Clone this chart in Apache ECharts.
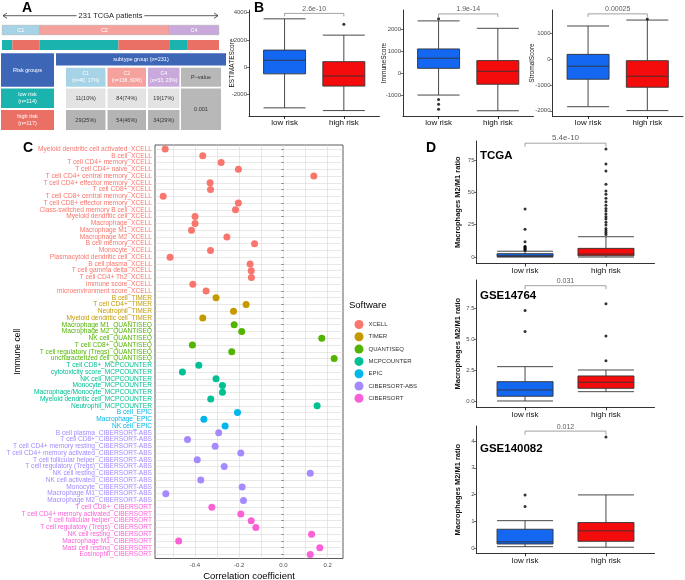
<!DOCTYPE html>
<html><head><meta charset="utf-8">
<script src="https://cdn.jsdelivr.net/npm/echarts@6/dist/echarts.min.js"></script>
<style>html,body{margin:0;padding:0;background:#fff}#c{width:685px;height:580px}</style>
</head><body><div id="c"></div>
<script>
// ================= DATA =================
// Panel A
const subtypes = ['C1', 'C2', 'C4'];
const subtypeLowRisk = [11, 84, 19];
const subtypeHighRisk = [29, 54, 34];
const pValueA = '0.001';

// Panel B
const riskGroups = ['low risk', 'high risk'];
const estimateBox = [[-3000, -500, 500, 1250, 3550], [-3200, -1400, -650, 400, 2350]];
const estimateOutliers = [[], [3150]];
const immuneBox = [[-1000, 225, 690, 1115, 2400], [-1720, -505, 90, 580, 2060]];
const immuneOutliers = [[2500, -1200, -1420, -1650], []];
const stromalBox = [[-1840, -775, -270, 190, 1290], [-1990, -1085, -660, -55, 1520]];
const stromalOutliers = [[], [1560]];
const bPValues = ['2.6e-10', '1.9e-14', '0.00025'];
const bBracketLevels = [3950, 2720, 1760];

// Panel C
const softwareNames = ['XCELL', 'TIMER', 'QUANTISEQ', 'MCPCOUNTER', 'EPIC', 'CIBERSORT-ABS', 'CIBERSORT'];
const xcellCells = ['Myeloid dendritic cell activated', 'B cell', 'T cell CD4+ memory', 'T cell CD4+ naive', 'T cell CD4+ central memory', 'T cell CD4+ effector memory', 'T cell CD8+', 'T cell CD8+ central memory', 'T cell CD8+ effector memory', 'Class-switched memory B cell', 'Myeloid dendritic cell', 'Macrophage', 'Macrophage M1', 'Macrophage M2', 'B cell memory', 'Monocyte', 'Plasmacytoid dendritic cell', 'B cell plasma', 'T cell gamma delta', 'T cell CD4+ Th2', 'immune score', 'microenvironment score'];
const xcellCorr = [-0.535, -0.365, -0.282, -0.204, 0.137, -0.332, -0.330, -0.544, -0.204, -0.217, -0.400, -0.400, -0.416, -0.256, -0.131, -0.330, -0.513, -0.151, -0.146, -0.145, -0.410, -0.350];
const timerCells = ['B cell', 'T cell CD4+', 'Neutrophil', 'Myeloid dendritic cell'];
const timerCorr = [-0.305, -0.169, -0.226, -0.365];
const quantiseqCells = ['Macrophage M1', 'Macrophage M2', 'NK cell', 'T cell CD8+', 'T cell regulatory (Tregs)', 'uncharacterized cell'];
const quantiseqCorr = [-0.223, -0.189, 0.173, -0.412, -0.234, 0.229];
const mcpcounterCells = ['T cell CD8+', 'cytotoxicity score', 'NK cell', 'Monocyte', 'Macrophage/Monocyte', 'Myeloid dendritic cell', 'Neutrophil'];
const mcpcounterCorr = [-0.383, -0.457, -0.305, -0.276, -0.276, -0.329, 0.152];
const epicCells = ['B cell', 'Macrophage', 'NK cell'];
const epicCorr = [-0.208, -0.360, -0.264];
const cibersortAbsCells = ['B cell plasma', 'T cell CD8+', 'T cell CD4+ memory resting', 'T cell CD4+ memory activated', 'T cell follicular helper', 'T cell regulatory (Tregs)', 'NK cell resting', 'NK cell activated', 'Monocyte', 'Macrophage M1', 'Macrophage M2'];
const cibersortAbsCorr = [-0.293, -0.434, -0.309, -0.193, -0.390, -0.268, 0.121, -0.374, -0.187, -0.532, -0.181];
const cibersortCells = ['T cell CD8+', 'T cell CD4+ memory activated', 'T cell follicular helper', 'T cell regulatory (Tregs)', 'NK cell resting', 'Macrophage M1', 'Mast cell resting', 'Eosinophil'];
const cibersortCorr = [-0.324, -0.193, -0.146, -0.125, 0.127, -0.474, 0.164, 0.121];
const corrTicks = [-0.4, -0.2, 0.0, 0.2];

// Panel D
const dTitles = ['TCGA', 'GSE14764', 'GSE140082'];
const tcgaBox = [[0, 0.3, 1.0, 2.6, 4.5], [0, 1.0, 2.3, 6.7, 15.7]];
const tcgaOutliers = [[5.2, 6.0, 6.8, 7.5, 8.3, 11.8, 21.4, 37.2], [17.5, 19, 20.5, 22, 24.7, 26.8, 29.4, 31.2, 33.3, 35.6, 37.6, 40, 42.8, 45.4, 48.5, 51, 56.2, 66.5, 71.9, 83.5]];
const gse14764Box = [[0, 0.38, 0.89, 1.56, 2.77], [0.75, 1.02, 1.51, 2.02, 2.5]];
const gse14764Outliers = [[5.6, 7.3], [3.25, 5.25, 7.85]];
const gse140082Box = [[0.06, 0.16, 0.24, 0.71, 1.03], [0.04, 0.26, 0.65, 0.96, 1.99]];
const gse140082Outliers = [[1.56, 1.99], [4.15]];
const dPValues = ['5.4e-10', '0.031', '0.012'];
const dBracketLevels = [88, 9.3, 4.37];

// ================= STYLE =================
const FONT = '"Liberation Sans", Arial, Helvetica, sans-serif';
const BLUE = '#1467f0', RED = '#f40b0b';
const TEAL = '#1bb3ae', SALMON_RED = '#ea6f65';
const subtypeColors = ['#a7d3e6', '#f5a19e', '#c9a9dc'];
const softwareColors = ['#F8766D', '#C49A00', '#53B400', '#00C094', '#00B6EB', '#A58AFF', '#FB61D7'];

const grids = [], xAxes = [], yAxes = [], series = [], graphics = [];
function addGrid(g) { g.outerBoundsMode = 'none'; g.containLabel = false; grids.push(g); return grids.length - 1; }

// ================= PANEL A =================
addGrid({ left: 2, top: 22.5, width: 217, height: 30 });
const totalN = subtypeLowRisk.reduce((a, b) => a + b, 0) + subtypeHighRisk.reduce((a, b) => a + b, 0);
xAxes.push({ gridIndex: 0, type: 'value', min: 0, max: totalN, show: false });
yAxes.push({ gridIndex: 0, type: 'category', data: ['subtype', 'risk'], inverse: true, show: false });
subtypes.forEach((s, i) => {
  series.push({ type: 'bar', name: s, xAxisIndex: 0, yAxisIndex: 0, stack: 'sub', barWidth: 10, barGap: '-100%',
    data: [subtypeLowRisk[i] + subtypeHighRisk[i], '-'],
    itemStyle: { color: subtypeColors[i], borderColor: '#9a9a9a', borderWidth: 0.4 },
    label: { show: true, position: 'inside', formatter: s, fontSize: 5.5, color: '#fff', fontFamily: FONT }, silent: true });
});
subtypes.forEach((s, i) => {
  series.push({ type: 'bar', name: s + ' low', xAxisIndex: 0, yAxisIndex: 0, stack: 'risk', barWidth: 10, barGap: '-100%',
    data: ['-', subtypeLowRisk[i]], itemStyle: { color: TEAL }, silent: true });
  series.push({ type: 'bar', name: s + ' high', xAxisIndex: 0, yAxisIndex: 0, stack: 'risk', barWidth: 10, barGap: '-100%',
    data: ['-', subtypeHighRisk[i]], itemStyle: { color: SALMON_RED }, silent: true });
});

// arrow
graphics.push({ type: 'line', shape: { x1: 3, y1: 15.7, x2: 218, y2: 15.7 }, style: { stroke: '#333', lineWidth: 0.8 } });
graphics.push({ type: 'polyline', shape: { points: [[7, 13], [3, 15.7], [7, 18.4]] }, style: { stroke: '#333', lineWidth: 0.8, fill: null } });
graphics.push({ type: 'polyline', shape: { points: [[214, 13], [218, 15.7], [214, 18.4]] }, style: { stroke: '#333', lineWidth: 0.8, fill: null } });
graphics.push({ type: 'text', x: 110.5, y: 15.7, style: { text: totalN + ' TCGA patients', fontSize: 7.5, fontFamily: FONT, fill: '#222', align: 'center', verticalAlign: 'middle', backgroundColor: '#fff', padding: [0, 2] }, z: 10 });

// table
function cell(x1, y1, x2, y2, fill, text, color, fs) {
  graphics.push({ type: 'rect', shape: { x: x1, y: y1, width: x2 - x1, height: y2 - y1 }, style: { fill: fill } });
  if (text) graphics.push({ type: 'text', x: (x1 + x2) / 2, y: (y1 + y2) / 2, style: { text: text, fontSize: fs || 5.5, fontFamily: FONT, fill: color, align: 'center', verticalAlign: 'middle', lineHeight: 7 }, z: 5 });
}
const TBLUE = '#3d66b6';
const lowTot = subtypeLowRisk.reduce((a, b) => a + b, 0), highTot = subtypeHighRisk.reduce((a, b) => a + b, 0);
const colX = [[66, 105.5], [107.5, 146], [148, 179.5]];
cell(1, 53.3, 54, 86.7, TBLUE, 'Risk groups', '#fff');
cell(56, 53.3, 226, 65.5, TBLUE, 'subtype group (n=' + totalN + ')', '#fff');
subtypes.forEach((s, i) => {
  const n = subtypeLowRisk[i] + subtypeHighRisk[i];
  cell(colX[i][0], 67.7, colX[i][1], 86.7, subtypeColors[i], s + '\n(n=' + n + ', ' + Math.round(n / totalN * 100) + '%)', '#fff', 5);
  cell(colX[i][0], 88.5, colX[i][1], 108, '#e3e3e3', subtypeLowRisk[i] + '(' + Math.round(subtypeLowRisk[i] / lowTot * 100) + '%)', '#333');
  cell(colX[i][0], 110, colX[i][1], 130, '#b4b4b4', subtypeHighRisk[i] + '(' + Math.round(subtypeHighRisk[i] / highTot * 100) + '%)', '#333');
});
cell(181, 67.7, 221, 86.7, '#b8b8b8', 'P\u2212value', '#333');
cell(181, 88.5, 221, 130, '#b8b8b8', pValueA, '#333');
cell(1, 88.5, 54, 108, TEAL, 'low risk\n(n=' + lowTot + ')', '#fff');
cell(1, 110, 54, 130, SALMON_RED, 'high risk\n(n=' + highTot + ')', '#fff');

// ================= BOX PANELS (B, D) =================
function addBoxPanel(cfg) {
  const gi = addGrid({ left: cfg.left, top: cfg.top, width: cfg.width, height: cfg.height });
  xAxes.push({ gridIndex: gi, type: 'value', min: 0.4, max: 2.6,
    axisLine: { show: true, onZero: false, lineStyle: { color: '#000', width: 0.8 } },
    axisTick: { show: true, customValues: [1, 2], length: 3, lineStyle: { color: '#000', width: 0.8 } },
    axisLabel: { customValues: [1, 2], formatter: v => riskGroups[Math.round(v) - 1], fontSize: 8, color: '#111', margin: 3, fontFamily: FONT },
    splitLine: { show: false } });
  yAxes.push({ gridIndex: gi, type: 'value', min: cfg.min, max: cfg.max,
    name: cfg.name, nameLocation: 'middle', nameGap: cfg.nameGap, nameRotate: 90, nameMoveOverlap: false,
    nameTextStyle: { fontSize: cfg.nameSize, color: '#111', fontFamily: FONT, fontWeight: cfg.nameBold ? 'bold' : 'normal' },
    axisLine: { show: true, onZero: false, lineStyle: { color: '#000', width: 0.8 } },
    axisTick: { show: true, customValues: cfg.ticks, length: 2.5, lineStyle: { color: '#333', width: 0.7 } },
    axisLabel: { customValues: cfg.ticks, formatter: cfg.fmt, fontSize: 6, color: '#4d4d4d', margin: 2, fontFamily: FONT },
    splitLine: { show: false } });
  series.push({ type: 'boxplot', xAxisIndex: gi, yAxisIndex: gi, boxWidth: [cfg.bw, cfg.bw], silent: true,
    itemStyle: { borderColor: '#333', borderWidth: 0.9 },
    data: cfg.box.map((b, i) => ({ value: [i + 1].concat(b), itemStyle: { color: i ? RED : BLUE } })) });
  const outs = [];
  cfg.out.forEach((arr, i) => arr.forEach(v => outs.push([i + 1, v])));
  series.push({ type: 'scatter', xAxisIndex: gi, yAxisIndex: gi, symbolSize: 3, silent: true, itemStyle: { color: '#000' }, data: outs });
  const leg = 0.028 * (cfg.max - cfg.min);
  series.push({ type: 'line', xAxisIndex: gi, yAxisIndex: gi, symbol: 'none', silent: true,
    lineStyle: { color: '#8a8a8a', width: 0.8 },
    data: [[1, cfg.bracket - leg], [1, cfg.bracket], [2, cfg.bracket], [2, cfg.bracket - leg]] });
  series.push({ type: 'scatter', xAxisIndex: gi, yAxisIndex: gi, symbolSize: 0, silent: true,
    data: [[1.5, cfg.bracket]],
    label: { show: true, position: 'top', distance: 1, formatter: cfg.p, fontSize: cfg.pSize, color: '#333', fontFamily: FONT } });
}

const bBoxes = [estimateBox, immuneBox, stromalBox];
const bOuts = [estimateOutliers, immuneOutliers, stromalOutliers];
const bNames = ['ESTIMATEScore', 'ImmuneScore', 'StromalScore'];
const bLeft = [249, 403, 552.5];
const bRange = [[-3600, 4200], [-1960, 2900], [-2200, 1910]];
const bTicks = [[-2000, 0, 2000, 4000], [-1000, 0, 1000, 2000], [-2000, -1000, 0, 1000]];
const bNameGap = [13, 15, 17];
for (let k = 0; k < 3; k++) {
  addBoxPanel({ left: bLeft[k], top: 10, width: 130.4, height: 106, min: bRange[k][0], max: bRange[k][1],
    ticks: bTicks[k], fmt: v => String(v), name: bNames[k], nameGap: bNameGap[k], nameSize: 6.5,
    bw: 42, box: bBoxes[k], out: bOuts[k], bracket: bBracketLevels[k], p: bPValues[k], pSize: 7 });
}

// ================= PANEL C =================
const cGroups = [[xcellCells, xcellCorr], [timerCells, timerCorr], [quantiseqCells, quantiseqCorr], [mcpcounterCells, mcpcounterCorr], [epicCells, epicCorr], [cibersortAbsCells, cibersortAbsCorr], [cibersortCells, cibersortCorr]];
const cLabels = [], cSoft = [];
const cGi = addGrid({ left: 155, top: 145, width: 188, height: 413.5, show: true, borderColor: '#333', borderWidth: 0.8, backgroundColor: 'transparent' });
cGroups.forEach((g, si) => {
  const data = [];
  g[0].forEach((name, k) => {
    data.push([g[1][k], cLabels.length]);
    cLabels.push(name + '_' + softwareNames[si]);
    cSoft.push(si);
  });
  series.push({ type: 'scatter', name: softwareNames[si], xAxisIndex: cGi, yAxisIndex: cGi, symbolSize: 7, silent: true,
    itemStyle: { color: softwareColors[si], opacity: 1 }, data: data, z: 5 });
});
const cIdx = cLabels.map((_, i) => i);
const cEven = cIdx.filter(i => i % 2 === 0), cOdd = cIdx.filter(i => i % 2 === 1);
const cLabelStyle = { formatter: v => cLabels[Math.round(v)], fontSize: 6.6, margin: 3, fontFamily: FONT,
  showMinLabel: true, showMaxLabel: true, hideOverlap: false,
  color: v => softwareColors[cSoft[Math.round(Number(v))]] };
xAxes.push({ gridIndex: cGi, type: 'value', min: -0.581, max: 0.269,
  name: 'Correlation coefficient', nameLocation: 'middle', nameGap: 13, nameMoveOverlap: false,
  nameTextStyle: { fontSize: 9.5, color: '#000', fontFamily: FONT },
  axisLine: { show: false },
  axisTick: { show: false, customValues: [-0.5, -0.4, -0.3, -0.2, -0.1, 0, 0.1, 0.2] },
  axisLabel: { customValues: corrTicks, formatter: v => Number(v).toFixed(1), fontSize: 6, color: '#4d4d4d', margin: 4, fontFamily: FONT },
  splitLine: { show: true, lineStyle: { color: '#d9d9d9', width: 0.6 } } });
yAxes.push({ gridIndex: cGi, type: 'value', min: -0.6, max: cLabels.length - 0.4, inverse: true,
  name: 'Immune cell', nameLocation: 'middle', nameGap: 133, nameRotate: 90, nameMoveOverlap: false,
  nameTextStyle: { fontSize: 8.5, color: '#000', fontFamily: FONT },
  axisLine: { show: false },
  axisTick: { show: true, customValues: cIdx, length: 2, lineStyle: { color: '#333', width: 0.6 } },
  axisLabel: Object.assign({ customValues: cEven }, cLabelStyle),
  splitLine: { show: true, lineStyle: { color: '#d9d9d9', width: 0.6 } } });

graphics.push({ type: 'text', x: 349, y: 305, style: { text: 'Software', fontSize: 9.5, fontFamily: FONT, fill: '#000', verticalAlign: 'middle' } });

// ================= PANEL D =================
const dBoxes = [tcgaBox, gse14764Box, gse140082Box];
const dOuts = [tcgaOutliers, gse14764Outliers, gse140082Outliers];
const dTop = [141, 280, 426];
const dHeight = [122.5, 127.3, 127.3];
const dRange = [[-5, 89.7], [-0.51, 9.76], [-0.187, 4.56]];
const dTicks = [[0, 25, 50, 75], [0, 2.5, 5, 7.5], [0, 1, 2, 3, 4]];
const dFmt = [v => String(v), v => Number(v).toFixed(1), v => String(v)];
const dTitleY = [156, 296, 448.5];
for (let k = 0; k < 3; k++) {
  addBoxPanel({ left: 476.5, top: dTop[k], width: 178, height: dHeight[k], min: dRange[k][0], max: dRange[k][1],
    ticks: dTicks[k], fmt: dFmt[k], name: 'Macrophages M2/M1 ratio', nameGap: 15, nameSize: 7.5, nameBold: true,
    bw: 56, box: dBoxes[k], out: dOuts[k], bracket: dBracketLevels[k], p: dPValues[k], pSize: k === 0 ? 8 : 7 });
  graphics.push({ type: 'text', x: 480, y: dTitleY[k], style: { text: dTitles[k], fontSize: 11.5, fontWeight: 'bold', fontFamily: FONT, fill: '#000', verticalAlign: 'middle' } });
}

// second label axis for panel C (odd rows) - avoids label auto-hiding between close rows
yAxes.push({ gridIndex: cGi, type: 'value', min: -0.6, max: cLabels.length - 0.4, inverse: true, position: 'left', offset: 0,
  axisLine: { show: false }, axisTick: { show: false, customValues: cOdd }, splitLine: { show: false },
  axisLabel: Object.assign({ customValues: cOdd }, cLabelStyle) });

// panel letters
[['A', 22, 8], ['B', 254, 8], ['C', 23, 148], ['D', 426, 148]].forEach(l => {
  graphics.push({ type: 'text', x: l[1], y: l[2], style: { text: l[0], fontSize: 14, fontWeight: 'bold', fontFamily: FONT, fill: '#000', verticalAlign: 'middle' } });
});

const chart = echarts.init(document.getElementById('c'));
chart.setOption({
  animation: false,
  backgroundColor: '#fff',
  textStyle: { fontFamily: FONT },
  grid: grids,
  xAxis: xAxes,
  yAxis: yAxes,
  legend: { data: softwareNames, orient: 'vertical', left: 349.5, top: 315, itemWidth: 9, itemHeight: 9, itemGap: 3.3, icon: 'circle',
    textStyle: { fontSize: 6, color: '#333', fontFamily: FONT }, selectedMode: false },
  series: series,
  graphic: graphics
});
</script>
</body></html>
